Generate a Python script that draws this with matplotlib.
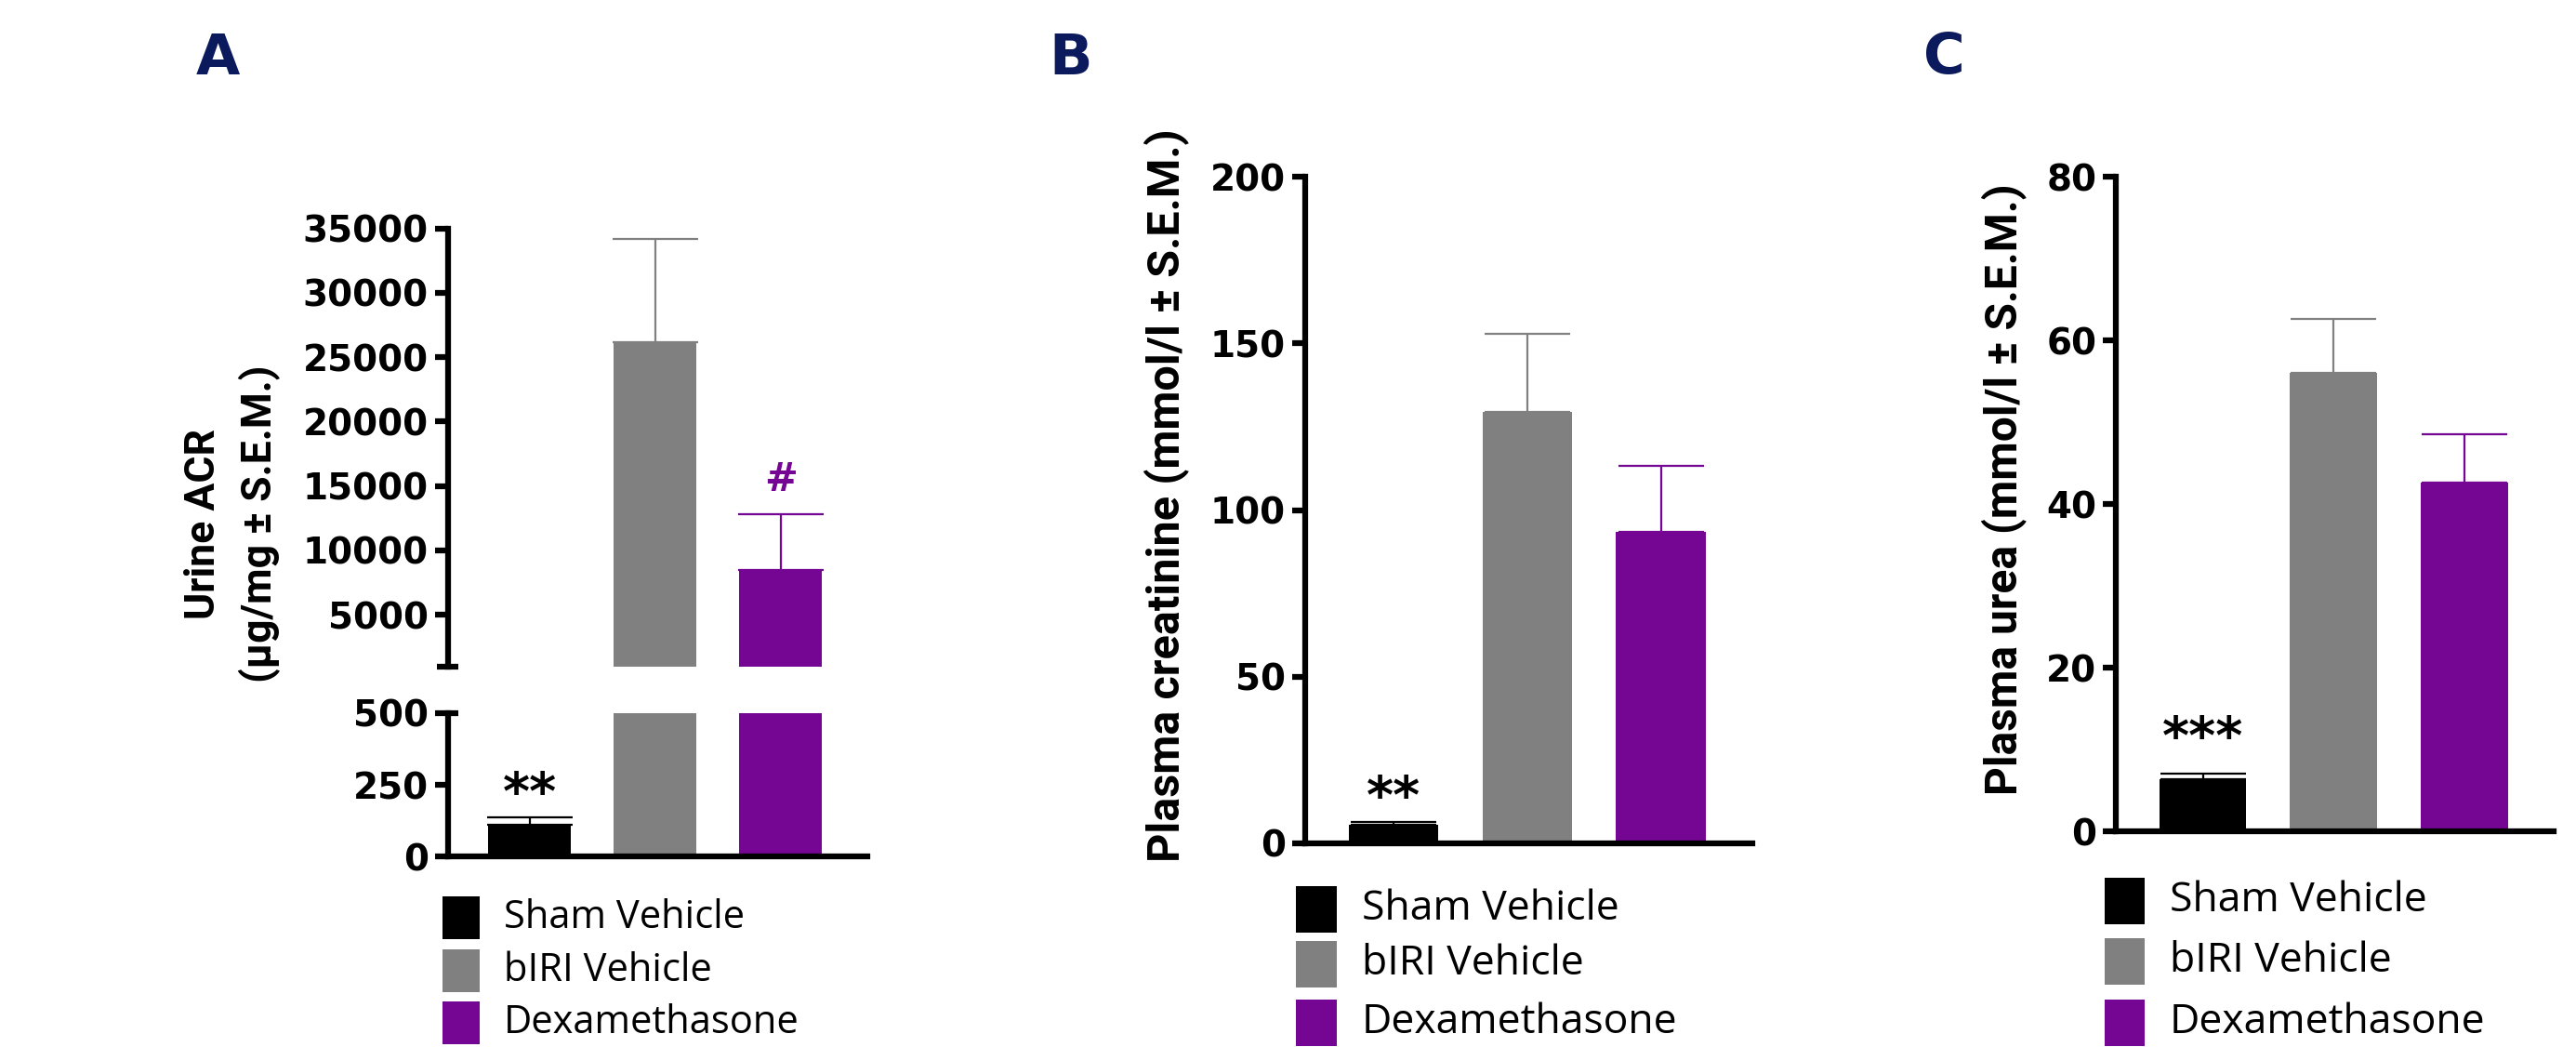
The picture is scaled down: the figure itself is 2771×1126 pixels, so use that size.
import numpy as np
import matplotlib.pyplot as plt
from matplotlib.patches import Rectangle

# group names and colours
groups = ['Sham Vehicle', 'bIRI Vehicle', 'Dexamethasone']
colors = ['#000000', '#808080', '#750693']

# (mean, S.E.M.)
acr_mean = [110, 26200, 8500]
acr_sem = [27, 8000, 4300]
creat_mean = [5.7, 129.5, 93.6]
creat_sem = [0.6, 23.4, 19.6]
urea_mean = [6.4, 56.1, 42.6]
urea_sem = [0.6, 6.5, 6.0]

W, H = 2771, 1126
fig = plt.figure(figsize=(W / 100, H / 100), dpi=100)

NAVY = '#0b1a5c'
LW = 4.5
TICKFONT = dict(family='DejaVu Sans', weight='bold', size=28)
LABELFONT = ['Roboto', 'DejaVu Sans']


def box(l, r, t, b):
    return [l / W, 1 - b / H, (r - l) / W, (b - t) / H]


def style(ax, bottom=True):
    for s in ['top', 'right']:
        ax.spines[s].set_visible(False)
    ax.spines['left'].set_linewidth(LW)
    ax.spines['bottom'].set_linewidth(LW)
    ax.spines['bottom'].set_visible(bottom)
    ax.tick_params(axis='y', width=LW, length=10, pad=5)
    ax.tick_params(axis='x', length=0)
    ax.set_xticks([])
    for lab in ax.get_yticklabels():
        lab.set_fontfamily(TICKFONT['family'])
        lab.set_fontweight(TICKFONT['weight'])
        lab.set_fontsize(TICKFONT['size'])


def bars(ax, means, sems, width):
    x = np.arange(len(means))
    ax.bar(x, means, width=width, color=colors, edgecolor='none', zorder=2)
    for i in range(len(means)):
        ax.errorbar(x[i], means[i], yerr=[[0], [sems[i]]], ecolor=colors[i],
                    elinewidth=1.6, capsize=33, capthick=1.6, fmt='none', zorder=1)


def legend(x0, tops, sq_w, sq_h, tx, fs):
    for i, g in enumerate(groups):
        fig.add_artist(Rectangle((x0 / W, 1 - (tops[i] + sq_h) / H), sq_w / W, sq_h / H,
                                 transform=fig.transFigure, color=colors[i], lw=0))
        fig.text(tx / W, 1 - (tops[i] + sq_h / 2) / H, g, fontsize=fs,
                 family='Open Sans', va='center', ha='left')


# ---------- Panel A (broken axis) ----------
axA_top = fig.add_axes(box(481.6, 933, 245.6, 716.7))
axA_bot = fig.add_axes(box(481.6, 933, 767, 921.4))
for ax in (axA_top, axA_bot):
    bars(ax, acr_mean, acr_sem, 0.66)
    ax.set_xlim(-0.652, 2.69)
axA_top.set_ylim(1000, 35000)
axA_top.set_yticks(np.arange(5000, 35001, 5000))
axA_bot.set_ylim(0, 500)
axA_bot.set_yticks([0, 250, 500])
style(axA_top, bottom=False)
style(axA_bot)
# break caps on the spine
axA_top.plot([-0.025, 0.025], [1000, 1000], color='k', lw=LW, clip_on=False,
             transform=axA_top.get_yaxis_transform(), solid_capstyle='butt')
axA_bot.plot([0, 0.025], [500, 500], color='k', lw=LW, clip_on=False,
             transform=axA_bot.get_yaxis_transform(), solid_capstyle='butt')
axA_bot.text(0, 215, '**', ha='center', va='center', fontsize=40,
             fontweight='bold', family='DejaVu Sans')
axA_top.text(2, 15450, '#', ha='center', va='center', fontsize=31,
             fontweight='bold', family='DejaVu Sans', color=colors[2])
fig.text(250 / W, 1 - 563 / H, 'Urine ACR\n(µg/mg ± S.E.M.)', rotation=90,
         ha='center', va='center', fontsize=32, fontweight='bold',
         family=LABELFONT, linespacing=1.5)
legend(476, [964, 1021, 1077], 40, 46, 542, 30)
fig.text(234 / W, 1 - 63 / H, 'A', fontsize=44, fontweight='bold', color=NAVY,
         family='DejaVu Sans', ha='center', va='center')

# ---------- Panel B ----------
axB = fig.add_axes(box(1403.6, 1884.7, 190.3, 907))
bars(axB, creat_mean, creat_sem, 0.67)
axB.set_xlim(-0.664, 2.683)
axB.set_ylim(0, 200)
axB.set_yticks([0, 50, 100, 150, 200])
style(axB)
axB.text(0, 13.5, '**', ha='center', va='center', fontsize=40,
         fontweight='bold', family='DejaVu Sans')
fig.text(1254.6 / W, 1 - 533 / H, 'Plasma creatinine (mmol/l ± S.E.M.)', rotation=90,
         ha='center', va='center', fontsize=35, fontweight='bold', family=LABELFONT)
legend(1394, [953, 1012, 1075], 44, 50, 1465, 32)
fig.text(1152 / W, 1 - 63 / H, 'B', fontsize=44, fontweight='bold', color=NAVY,
         family='DejaVu Sans', ha='center', va='center')

# ---------- Panel C ----------
axC = fig.add_axes(box(2276, 2747, 190.3, 894))
bars(axC, urea_mean, urea_sem, 0.667)
axC.set_xlim(-0.664, 2.68)
axC.set_ylim(0, 80)
axC.set_yticks([0, 20, 40, 60, 80])
style(axC)
axC.text(0, 11.2, '***', ha='center', va='center', fontsize=40,
         fontweight='bold', family='DejaVu Sans')
fig.text(2155.7 / W, 1 - 526 / H, 'Plasma urea (mmol/l ± S.E.M.)', rotation=90,
         ha='center', va='center', fontsize=34.5, fontweight='bold', family=LABELFONT)
legend(2264, [944, 1009, 1075], 43, 50, 2334, 32)
fig.text(2091 / W, 1 - 63 / H, 'C', fontsize=44, fontweight='bold', color=NAVY,
         family='DejaVu Sans', ha='center', va='center')

fig.savefig('out.png', dpi=100)
